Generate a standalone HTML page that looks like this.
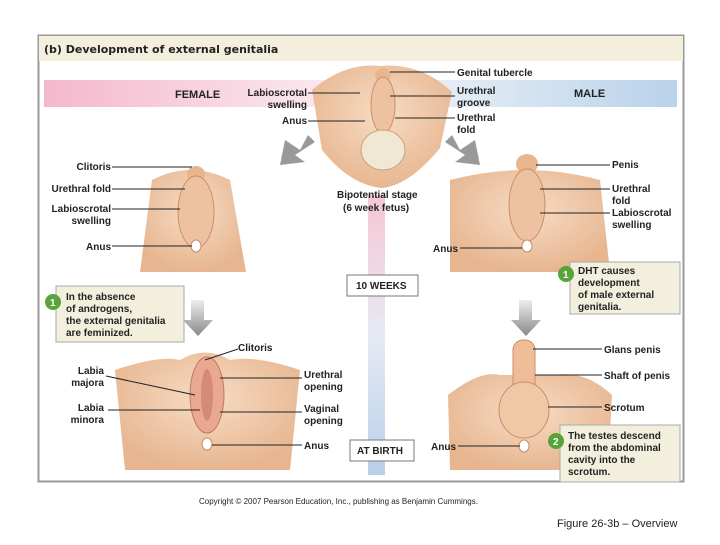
<!DOCTYPE html>
<html><head><style>
body{margin:0;background:#fff;}
svg text{font-family:"Liberation Sans",Arial,sans-serif;font-weight:bold;font-size:10px;fill:#222;}
</style></head><body>
<svg width="720" height="540" viewBox="0 0 720 540">
<defs>
<linearGradient id="bar" x1="0" x2="1"><stop offset="0" stop-color="#f4b8cc"/><stop offset="0.45" stop-color="#fbe9ef"/><stop offset="0.55" stop-color="#eef3f8"/><stop offset="1" stop-color="#b9d2ea"/></linearGradient>
<linearGradient id="vbar" x1="0" y1="0" x2="0" y2="1"><stop offset="0" stop-color="#f6c6d4"/><stop offset="0.5" stop-color="#e6eaf4"/><stop offset="1" stop-color="#b9d0ea"/></linearGradient>
<linearGradient id="arr" x1="0" y1="0" x2="0" y2="1"><stop offset="0" stop-color="#eee"/><stop offset="1" stop-color="#888"/></linearGradient>
<radialGradient id="skin" cx="0.5" cy="0.4" r="0.6"><stop offset="0" stop-color="#f7dcc4"/><stop offset="1" stop-color="#e7b690"/></radialGradient>
</defs>
<!-- frame -->
<rect x="38.5" y="35.5" width="645" height="446" fill="#fff" stroke="#9a9a9a" stroke-width="2"/>
<rect x="39" y="36" width="644" height="25" fill="#f4efdc"/>
<text x="44" y="53" style="font-size:11px;font-family:'DejaVu Sans',sans-serif;font-weight:bold">(b) Development of external genitalia</text>
<rect x="44" y="80" width="633" height="27" fill="url(#bar)"/>
<text x="175" y="98" style="font-size:11px">FEMALE</text>
<text x="574" y="97" style="font-size:11px">MALE</text>
<rect x="368" y="195" width="17" height="280" fill="url(#vbar)"/>
<!-- top center figure -->
<path d="M312 90 Q345 62 380 66 Q420 62 452 92 L440 148 Q410 185 382 188 Q350 185 322 150 Z" fill="url(#skin)"/>
<ellipse cx="383" cy="75" rx="8" ry="7" fill="#e8b58c"/>
<ellipse cx="383" cy="105" rx="12" ry="28" fill="#eec2a0" stroke="#c98e68"/>
<ellipse cx="383" cy="150" rx="22" ry="20" fill="#f1e8d3" stroke="#c9a07c"/>
<!-- female 10w -->
<path d="M152 180 Q190 160 230 180 L246 272 L140 272 Z" fill="url(#skin)"/>
<ellipse cx="196" cy="174" rx="9" ry="8" fill="#e8b58c"/>
<ellipse cx="196" cy="212" rx="18" ry="36" fill="#eec2a0" stroke="#c98e68"/>
<ellipse cx="196" cy="246" rx="5" ry="6" fill="#fff" stroke="#c98e68"/>
<!-- male 10w -->
<path d="M450 180 Q525 160 600 180 L610 272 L450 272 Z" fill="url(#skin)"/>
<ellipse cx="527" cy="164" rx="11" ry="10" fill="#e8b58c"/>
<ellipse cx="527" cy="205" rx="18" ry="36" fill="#eec2a0" stroke="#c98e68"/>
<ellipse cx="527" cy="246" rx="5" ry="6" fill="#fff" stroke="#c98e68"/>
<!-- female birth -->
<path d="M115 370 Q160 355 180 360 Q205 345 230 360 Q255 355 300 370 L290 470 L125 470 Z" fill="url(#skin)"/>
<ellipse cx="207" cy="395" rx="17" ry="38" fill="#e9a990" stroke="#c07a60"/>
<ellipse cx="207" cy="395" rx="6" ry="26" fill="#d68a78"/>
<ellipse cx="207" cy="444" rx="5" ry="6" fill="#fff" stroke="#c98e68"/>
<!-- male birth -->
<path d="M448 395 Q480 370 500 375 L555 375 Q585 370 612 395 L608 470 L450 470 Z" fill="url(#skin)"/>
<rect x="513" y="340" width="22" height="70" rx="10" fill="#eebd98" stroke="#c98e68"/>
<ellipse cx="524" cy="410" rx="25" ry="28" fill="#f1c8a6" stroke="#c98e68"/>
<ellipse cx="524" cy="446" rx="5" ry="6" fill="#fff" stroke="#c98e68"/>
<!-- arrows -->
<path d="M300 150 L285 140 L280 165 L305 162 L295 155 L315 142 L308 135 Z" fill="#999"/>
<path d="M460 150 L475 140 L480 165 L455 162 L465 155 L445 142 L452 135 Z" fill="#999"/>
<path d="M191 300 h13 v20 h9 l-15 16 l-15 -16 h8 Z" fill="url(#arr)"/>
<path d="M519 300 h13 v20 h9 l-15 16 l-15 -16 h8 Z" fill="url(#arr)"/>
<!-- boxes -->
<rect x="347" y="275" width="71" height="21" fill="#fff" stroke="#777"/>
<text x="356" y="289">10 WEEKS</text>
<rect x="350" y="440" width="64" height="21" fill="#fff" stroke="#777"/>
<text x="357" y="454">AT BIRTH</text>
<text x="337" y="198">Bipotential stage</text>
<text x="343" y="211">(6 week fetus)</text>
<rect x="56" y="286" width="128" height="56" fill="#f3efdd" stroke="#aaa"/>
<circle cx="53" cy="302" r="8" fill="#5aa33b"/><text x="50" y="306" style="fill:#fff">1</text>
<text x="66" y="300">In the absence</text><text x="66" y="312">of androgens,</text><text x="66" y="324">the external genitalia</text><text x="66" y="336">are feminized.</text>
<rect x="570" y="262" width="110" height="52" fill="#f3efdd" stroke="#aaa"/>
<circle cx="566" cy="274" r="8" fill="#5aa33b"/><text x="563" y="278" style="fill:#fff">1</text>
<text x="578" y="274">DHT causes</text><text x="578" y="286">development</text><text x="578" y="298">of male external</text><text x="578" y="310">genitalia.</text>
<rect x="560" y="425" width="120" height="57" fill="#f3efdd" stroke="#aaa"/>
<circle cx="556" cy="441" r="8" fill="#5aa33b"/><text x="553" y="445" style="fill:#fff">2</text>
<text x="568" y="439">The testes descend</text><text x="568" y="451">from the abdominal</text><text x="568" y="463">cavity into the</text><text x="568" y="475">scrotum.</text>
<!-- labels & leader lines -->
<g stroke="#222" stroke-width="1">
<line x1="308" y1="93" x2="360" y2="93"/><line x1="308" y1="121" x2="365" y2="121"/>
<line x1="390" y1="72" x2="455" y2="72"/><line x1="390" y1="96" x2="455" y2="96"/><line x1="395" y1="118" x2="455" y2="118"/>
<line x1="112" y1="167" x2="192" y2="167"/><line x1="112" y1="189" x2="185" y2="189"/><line x1="112" y1="209" x2="180" y2="209"/><line x1="112" y1="246" x2="192" y2="246"/>
<line x1="536" y1="165" x2="610" y2="165"/><line x1="540" y1="189" x2="610" y2="189"/><line x1="540" y1="213" x2="610" y2="213"/><line x1="460" y1="248" x2="522" y2="248"/>
<line x1="205" y1="360" x2="238" y2="349"/><line x1="106" y1="376" x2="195" y2="395"/><line x1="108" y1="410" x2="200" y2="410"/><line x1="220" y1="378" x2="302" y2="378"/><line x1="220" y1="412" x2="302" y2="412"/><line x1="212" y1="445" x2="302" y2="445"/>
<line x1="533" y1="349" x2="602" y2="349"/><line x1="535" y1="375" x2="602" y2="375"/><line x1="548" y1="407" x2="602" y2="407"/><line x1="458" y1="446" x2="520" y2="446"/>
</g>
<g text-anchor="end">
<text x="307" y="96">Labioscrotal</text><text x="307" y="108">swelling</text><text x="307" y="124">Anus</text>
<text x="111" y="170">Clitoris</text><text x="111" y="192">Urethral fold</text><text x="111" y="212">Labioscrotal</text><text x="111" y="224">swelling</text><text x="111" y="250">Anus</text>
<text x="458" y="252">Anus</text>
<text x="104" y="374">Labia</text><text x="104" y="386">majora</text><text x="104" y="411">Labia</text><text x="104" y="423">minora</text>
<text x="456" y="450">Anus</text>
</g>
<text x="457" y="76">Genital tubercle</text><text x="457" y="94">Urethral</text><text x="457" y="106">groove</text><text x="457" y="121">Urethral</text><text x="457" y="133">fold</text>
<text x="612" y="168">Penis</text><text x="612" y="192">Urethral</text><text x="612" y="204">fold</text><text x="612" y="216">Labioscrotal</text><text x="612" y="228">swelling</text>
<text x="238" y="351">Clitoris</text><text x="304" y="378">Urethral</text><text x="304" y="390">opening</text><text x="304" y="412">Vaginal</text><text x="304" y="424">opening</text><text x="304" y="449">Anus</text>
<text x="604" y="353">Glans penis</text><text x="604" y="379">Shaft of penis</text><text x="604" y="411">Scrotum</text>
<text x="199" y="504" style="font-weight:normal;font-size:8px">Copyright © 2007 Pearson Education, Inc., publishing as Benjamin Cummings.</text>
<text x="557" y="527" style="font-weight:normal;font-size:11px">Figure 26-3b – Overview</text>
</svg>
</body></html>
